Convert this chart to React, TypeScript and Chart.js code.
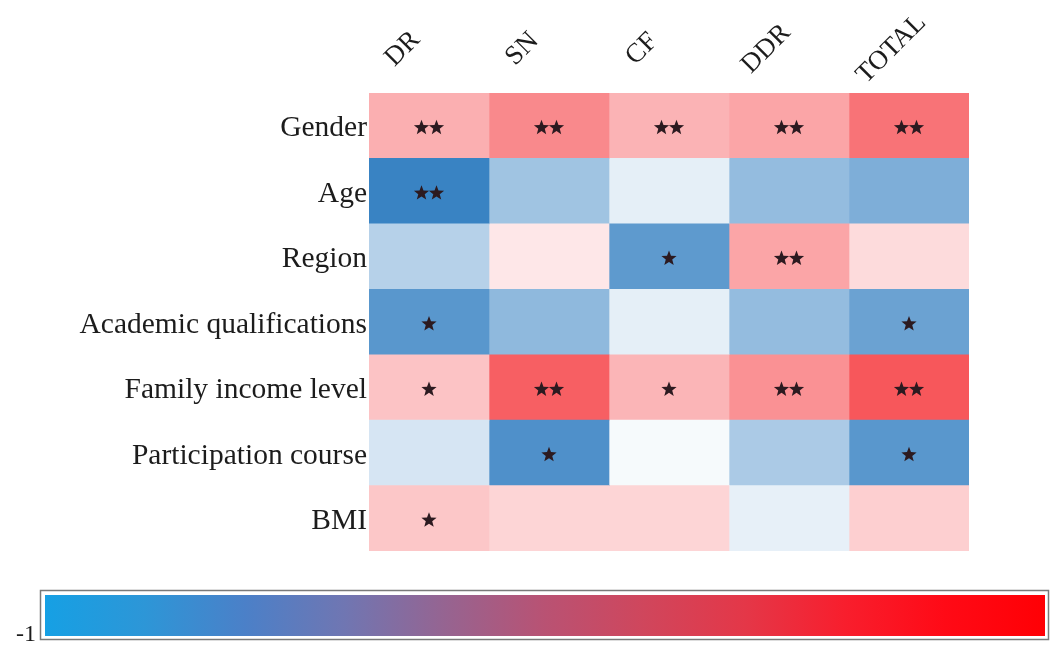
import React, { useEffect, useRef } from "react";
import { Chart, registerables } from "chart.js";

Chart.register(...registerables);

// ---- data ----
const ROWS = [
  "Gender",
  "Age",
  "Region",
  "Academic qualifications",
  "Family income level",
  "Participation course",
  "BMI",
];
const COLUMNS = ["DR", "SN", "CF", "DDR", "TOTAL"];

// correlation values per column (row order as ROWS)
const DR = [0.4, -0.92, -0.34, -0.77, 0.3, -0.19, 0.28];
const SN = [0.59, -0.44, 0.12, -0.52, 0.8, -0.82, 0.21];
const CF = [0.38, -0.12, -0.75, -0.12, 0.37, -0.04, 0.21];
const DDR = [0.45, -0.5, 0.45, -0.5, 0.55, -0.39, -0.11];
const TOTAL = [0.7, -0.6, 0.18, -0.69, 0.84, -0.77, 0.24];

// significance marks per column
const DR_SIG = ["**", "**", "", "*", "*", "", "*"];
const SN_SIG = ["**", "", "", "", "**", "*", ""];
const CF_SIG = ["**", "", "*", "", "*", "", ""];
const DDR_SIG = ["**", "", "**", "", "**", "", ""];
const TOTAL_SIG = ["**", "", "", "*", "**", "*", ""];

const COLORBAR_MIN_LABEL = "-1";

const VALUES = [DR, SN, CF, DDR, TOTAL];
const SIGS = [DR_SIG, SN_SIG, CF_SIG, DDR_SIG, TOTAL_SIG];

const POS_FULL = [245, 55, 60];
const NEG_FULL = [40, 120, 190];

function cellColor(v: number): string {
  const t = Math.min(1, Math.abs(v));
  const full = v >= 0 ? POS_FULL : NEG_FULL;
  const c = full.map((f) => Math.round(255 - t * (255 - f)));
  return `rgb(${c[0]},${c[1]},${c[2]})`;
}

const SERIF = "'Liberation Serif', 'Times New Roman', serif";
const TEXT = "#1c1c1c";

function drawStar(ctx: CanvasRenderingContext2D, cx: number, cy: number, ro: number, ri: number) {
  ctx.beginPath();
  for (let i = 0; i < 10; i++) {
    const r = i % 2 === 0 ? ro : ri;
    const a = -Math.PI / 2 + (i * Math.PI) / 5;
    const x = cx + r * Math.cos(a);
    const y = cy + r * Math.sin(a);
    if (i === 0) ctx.moveTo(x, y);
    else ctx.lineTo(x, y);
  }
  ctx.closePath();
  ctx.fill();
}

const decorPlugin = {
  id: "heatDecor",
  afterDatasetsDraw(chart: any) {
    const ctx = chart.ctx;
    const xs = chart.scales.x;
    const ys = chart.scales.y;
    const area = chart.chartArea;
    ctx.save();
    // stars
    ctx.fillStyle = "#2c1a20";
    const step = 15;
    SIGS.forEach((col, c) => {
      col.forEach((s, r) => {
        if (!s) return;
        const x = xs.getPixelForValue(c + 0.5);
        const y = ys.getPixelForValue(r) + 2;
        const n = s.length;
        for (let k = 0; k < n; k++) {
          const sx = x + (k - (n - 1) / 2) * step;
          drawStar(ctx, sx, y, 8, 3.4);
        }
      });
    });
    // column headers
    ctx.fillStyle = TEXT;
    ctx.font = `27px ${SERIF}`;
    COLUMNS.forEach((label, c) => {
      const w = ctx.measureText(label).width;
      const x = xs.getPixelForValue(c + 0.5) - 33 + 0.18 * w;
      const y = area.top - 44;
      ctx.save();
      ctx.translate(x, y);
      ctx.rotate(-Math.PI / 4);
      ctx.textAlign = "center";
      ctx.textBaseline = "middle";
      ctx.fillText(label, 0, 0);
      ctx.restore();
    });
    ctx.restore();
  },
  afterDraw(chart: any) {
    const ctx = chart.ctx;
    const W = chart.width;
    ctx.save();
    // colour bar
    const fx = 40, fy = 590, fw = W - 3 - fx, fh = 49;
    ctx.strokeStyle = "#7a7a7a";
    ctx.lineWidth = 1.5;
    ctx.strokeRect(fx + 0.5, fy + 0.5, fw, fh);
    const gx = fx + 5, gy = fy + 5, gw = fw - 8, gh = fh - 8;
    const g = ctx.createLinearGradient(gx, 0, gx + gw, 0);
    g.addColorStop(0, "rgb(22,160,228)");
    g.addColorStop(0.1, "rgb(45,150,215)");
    g.addColorStop(0.2, "rgb(75,128,200)");
    g.addColorStop(0.3, "rgb(112,118,178)");
    g.addColorStop(0.4, "rgb(150,100,145)");
    g.addColorStop(0.5, "rgb(185,82,115)");
    g.addColorStop(0.6, "rgb(208,70,92)");
    g.addColorStop(0.7, "rgb(228,55,72)");
    g.addColorStop(0.8, "rgb(248,30,45)");
    g.addColorStop(0.9, "rgb(255,10,22)");
    g.addColorStop(1, "rgb(255,0,5)");
    ctx.fillStyle = g;
    ctx.fillRect(gx, gy, gw, gh);
    // min label
    ctx.fillStyle = TEXT;
    ctx.font = `24px ${SERIF}`;
    ctx.textAlign = "right";
    ctx.textBaseline = "alphabetic";
    ctx.fillText(COLORBAR_MIN_LABEL, fx - 4, fy + fh + 2);
    ctx.restore();
  },
};

export default function App() {
  const ref = useRef<HTMLCanvasElement | null>(null);
  useEffect(() => {
    if (!ref.current) return;
    const datasets = COLUMNS.map((name, c) => ({
      label: name,
      data: ROWS.map(() => 1),
      backgroundColor: VALUES[c].map((v) => cellColor(v)),
      borderWidth: 0,
      barPercentage: 1,
      categoryPercentage: 1,
    }));
    const chart = new Chart(ref.current, {
      type: "bar",
      data: { labels: ROWS, datasets },
      options: {
        indexAxis: "y",
        animation: false,
        responsive: false,
        maintainAspectRatio: false,
        layout: { padding: { left: 0, top: 93, right: 82, bottom: 95 } },
        plugins: { legend: { display: false }, tooltip: { enabled: false } },
        scales: {
          x: { type: "linear", min: 0, max: 5, stacked: true, display: false },
          y: {
            type: "category",
            stacked: true,
            grid: { display: false, drawTicks: false },
            border: { display: false },
            ticks: {
              color: TEXT,
              padding: 2,
              labelOffset: 3,
              font: { family: SERIF, size: 29.5 },
            },
            afterFit: (scale: any) => {
              scale.width = 369;
            },
          },
        },
      },
      plugins: [decorPlugin],
    } as any);
    return () => chart.destroy();
  }, []);
  return (
    <div style={{ position: "absolute", left: 0, top: 0, width: 1051, height: 646, background: "#fff" }}>
      <canvas ref={ref} width={1051} height={646} style={{ display: "block" }} />
    </div>
  );
}
